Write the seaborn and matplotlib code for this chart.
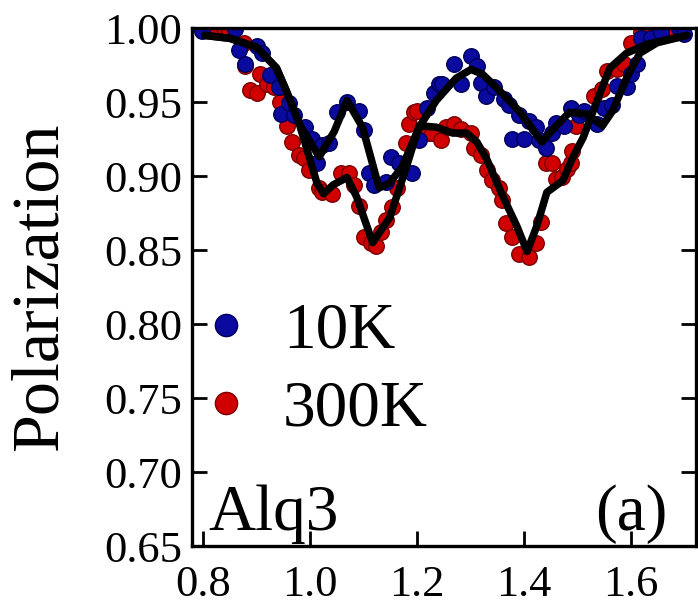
import numpy as np
import pandas as pd
import matplotlib
matplotlib.use("Agg")
import matplotlib.pyplot as plt
from matplotlib.lines import Line2D
import seaborn as sns

# ── data ─────────────────────────────────────────────────────────────────────
x_10k = [0.798, 0.860, 0.867, 0.879, 0.901, 0.910, 0.925, 0.942, 0.946, 0.961,
         0.970, 0.991, 1.004, 1.013, 1.022, 1.036, 1.050, 1.069, 1.092, 1.100,
         1.110, 1.120, 1.142, 1.151, 1.166, 1.191, 1.204, 1.219, 1.232, 1.241,
         1.247, 1.269, 1.282, 1.301, 1.312, 1.320, 1.329, 1.344, 1.363, 1.372,
         1.378, 1.391, 1.400, 1.409, 1.422, 1.428, 1.441, 1.452, 1.460, 1.475,
         1.488, 1.503, 1.512, 1.536, 1.550, 1.564, 1.574, 1.592, 1.600, 1.611,
         1.620, 1.637, 1.656, 1.690, 1.700]
y_10k = [0.998, 0.999, 0.985, 0.976, 0.988, 0.983, 0.968, 0.960, 0.942, 0.949,
         0.941, 0.933, 0.925, 0.909, 0.921, 0.922, 0.943, 0.950, 0.944, 0.931,
         0.902, 0.894, 0.896, 0.913, 0.909, 0.902, 0.924, 0.946, 0.956, 0.962,
         0.962, 0.976, 0.962, 0.981, 0.974, 0.963, 0.954, 0.960, 0.952, 0.948,
         0.925, 0.941, 0.925, 0.937, 0.933, 0.924, 0.919, 0.929, 0.936, 0.934,
         0.946, 0.941, 0.944, 0.935, 0.946, 0.948, 0.961, 0.960, 0.969, 0.976,
         0.993, 0.993, 0.997, 1.000, 0.996]

x_300k = [0.811, 0.826, 0.839, 0.849, 0.877, 0.879, 0.888, 0.901, 0.907, 0.920,
          0.933, 0.944, 0.957, 0.966, 0.979, 0.989, 0.998, 1.017, 1.022, 1.041,
          1.058, 1.073, 1.082, 1.092, 1.100, 1.114, 1.123, 1.133, 1.142, 1.153,
          1.163, 1.179, 1.185, 1.194, 1.200, 1.222, 1.228, 1.245, 1.254, 1.269,
          1.282, 1.301, 1.307, 1.320, 1.331, 1.340, 1.353, 1.359, 1.366, 1.378,
          1.391, 1.409, 1.422, 1.432, 1.441, 1.452, 1.460, 1.471, 1.480, 1.488,
          1.490, 1.497, 1.531, 1.546, 1.555, 1.574, 1.587, 1.600, 1.619, 1.639,
          1.662, 1.680]
y_300k = [1.000, 0.998, 1.000, 0.998, 0.990, 0.974, 0.958, 0.956, 0.969, 0.962,
          0.960, 0.950, 0.934, 0.923, 0.914, 0.912, 0.904, 0.892, 0.889, 0.888,
          0.902, 0.902, 0.894, 0.880, 0.859, 0.855, 0.853, 0.862, 0.870, 0.879,
          0.892, 0.922, 0.935, 0.943, 0.944, 0.929, 0.929, 0.924, 0.933, 0.935,
          0.932, 0.929, 0.919, 0.914, 0.904, 0.897, 0.892, 0.884, 0.868, 0.859,
          0.847, 0.845, 0.855, 0.869, 0.909, 0.909, 0.898, 0.899, 0.905, 0.909,
          0.917, 0.934, 0.954, 0.959, 0.971, 0.972, 0.976, 0.990, 0.997, 0.999,
          1.001, 0.998]

# fitted curves (black lines)
fit_x_10k = [0.803, 0.85, 0.90, 0.937, 0.955, 0.98, 1.017, 1.045, 1.069, 1.098,
             1.129, 1.148, 1.172, 1.204, 1.236, 1.273, 1.301, 1.322, 1.348, 1.391,
             1.434, 1.453, 1.485, 1.517, 1.547, 1.566, 1.592, 1.617, 1.649, 1.705]
fit_y_10k = [0.995, 0.993, 0.987, 0.973, 0.958, 0.935, 0.913, 0.930, 0.951, 0.933,
             0.892, 0.895, 0.906, 0.933, 0.951, 0.966, 0.972, 0.969, 0.960, 0.944,
             0.923, 0.931, 0.943, 0.942, 0.934, 0.944, 0.966, 0.983, 0.990, 0.995]
fit_x_300k = [0.803, 0.85, 0.90, 0.937, 0.955, 0.98, 1.013, 1.025, 1.043, 1.069,
              1.087, 1.117, 1.149, 1.18, 1.204, 1.236, 1.267, 1.293, 1.312, 1.331,
              1.361, 1.387, 1.406, 1.424, 1.443, 1.473, 1.492, 1.511, 1.537, 1.561,
              1.592, 1.63, 1.705]
fit_y_300k = [0.995, 0.993, 0.987, 0.973, 0.958, 0.935, 0.895, 0.888, 0.894, 0.899,
              0.886, 0.855, 0.872, 0.906, 0.934, 0.933, 0.929, 0.929, 0.923, 0.911,
              0.886, 0.866, 0.849, 0.866, 0.889, 0.897, 0.913, 0.926, 0.951, 0.973,
              0.983, 0.989, 0.995]

BLUE, BLUE_EDGE = "#0a0a9e", "#00005a"
RED, RED_EDGE = "#d00000", "#7a0000"

sns.set_style("ticks")
plt.rcParams["font.family"] = ["Liberation Serif", "DejaVu Serif"]
plt.rcParams.update({
    "xtick.direction": "in", "ytick.direction": "in",
    "text.color": "black", "axes.labelcolor": "black",
    "xtick.color": "black", "ytick.color": "black",
})

fig = plt.figure(figsize=(6.98, 6.09), dpi=100)
ax = fig.add_axes([0.2751, 0.1034, 0.7220, 0.8506])

sns.scatterplot(x=x_300k, y=y_300k, color=RED, edgecolor=RED_EDGE, s=125,
                linewidth=1.0, ax=ax, zorder=2)
sns.scatterplot(x=x_10k, y=y_10k, color=BLUE, edgecolor=BLUE_EDGE, s=125,
                linewidth=1.0, ax=ax, zorder=2)

for fx, fy in [(fit_x_10k, fit_y_10k), (fit_x_300k, fit_y_300k)]:
    sns.lineplot(x=fx, y=fy, color="black", lw=5.4, sort=False,
                 estimator=None, ax=ax, zorder=3, solid_joinstyle="round",
                 solid_capstyle="round")

ax.set_xlim(0.779, 1.722)
ax.set_ylim(0.65, 1.0)
ax.set_xticks([0.8, 1.0, 1.2, 1.4, 1.6])
ax.set_yticks([0.65, 0.70, 0.75, 0.80, 0.85, 0.90, 0.95, 1.00])
ax.set_yticklabels([f"{v:.2f}" for v in ax.get_yticks()])
ax.set_xticklabels([f"{v:.1f}" for v in ax.get_xticks()])
ax.tick_params(axis="both", labelsize=32, length=11, width=2, color="black",
               labelcolor="black")
ax.tick_params(axis="x", pad=14)
ax.tick_params(axis="y", pad=7, right=True)
for sp in ax.spines.values():
    sp.set_visible(True)
    sp.set_linewidth(2.4)
    sp.set_color("black")

ax.set_xlabel("")
ax.set_ylabel("Polarization", fontsize=49, labelpad=24, color="black")

ax.text(0.032, 0.031, "Alq3", transform=ax.transAxes, fontsize=47,
        va="baseline", ha="left", color="black")
ax.text(0.944, 0.031, "(a)", transform=ax.transAxes, fontsize=47,
        va="baseline", ha="right", color="black")

handles = [
    Line2D([], [], ls="none", marker="o", markersize=16, markerfacecolor=BLUE,
           markeredgecolor=BLUE_EDGE, markeredgewidth=1.0, label="10K"),
    Line2D([], [], ls="none", marker="o", markersize=16, markerfacecolor=RED,
           markeredgecolor=RED_EDGE, markeredgewidth=1.0, label="300K"),
]
leg = ax.legend(handles=handles, loc="center left",
                bbox_to_anchor=(0.003, 0.338), frameon=False, fontsize=47,
                borderpad=0, borderaxespad=0, handlelength=1.0,
                handletextpad=0.37, labelspacing=0.28)
for t in leg.get_texts():
    t.set_color("black")

fig.savefig("out.png", dpi=100)
